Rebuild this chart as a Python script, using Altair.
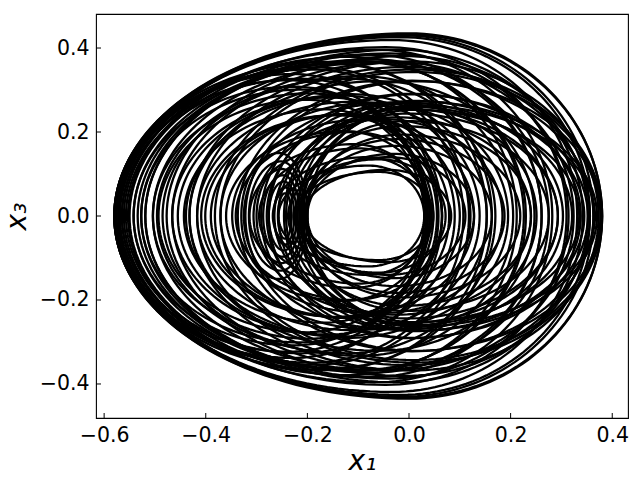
import numpy as np
import pandas as pd
import altair as alt

# Loop parameters: left x-intercept, right x-intercept,
# half-height and x position of the top of each loop of the trajectory.
loop_left = [-0.580, -0.553, -0.485, -0.390, -0.295, -0.227, -0.200, -0.223, -0.291, -0.382,
             -0.477, -0.550, -0.580, -0.557, -0.493, -0.401, -0.306, -0.234, -0.200, -0.219,
             -0.280, -0.371, -0.466, -0.542, -0.580, -0.565, -0.504, -0.417, -0.322, -0.242,
             -0.204, -0.215, -0.268, -0.360, -0.455, -0.534, -0.576, -0.572, -0.519, -0.432,
             -0.576, -0.527, -0.439, -0.341, -0.257, -0.208, -0.211, -0.257, -0.337, -0.432,
             -0.519, -0.569, -0.572, -0.527, -0.443, -0.348, -0.265, -0.211, -0.246, -0.325,
             -0.417, -0.504, -0.565, -0.576, -0.542, -0.466, -0.371, -0.276, -0.215, -0.204,
             -0.238, -0.314, -0.409, -0.496, -0.561, -0.580,
             -0.258, -0.266, -0.276, -0.287, -0.300, -0.315, -0.330]
loop_right = [0.380, 0.310, 0.205, 0.100, 0.037, 0.048, 0.128, 0.240, 0.338, 0.380,
              0.352, 0.261, 0.153, 0.065, 0.030, 0.079, 0.184, 0.293, 0.366, 0.370,
              0.303, 0.195, 0.090, 0.034, 0.058, 0.163, 0.275, 0.356, 0.377, 0.321,
              0.219, 0.111, 0.041, 0.044, 0.121, 0.230, 0.331, 0.380, 0.342, 0.247,
              0.356, 0.261, 0.153, 0.065, 0.030, 0.083, 0.188, 0.293, 0.363, 0.373,
              0.314, 0.212, 0.107, 0.041, 0.048, 0.128, 0.240, 0.335, 0.345, 0.251,
              0.139, 0.055, 0.037, 0.118, 0.226, 0.324, 0.377, 0.352, 0.275, 0.163,
              0.072, 0.034, 0.065, 0.170, 0.282, 0.363,
              -0.231, -0.226, -0.221, -0.215, -0.208, -0.204, -0.200]
loop_height = [0.435, 0.402, 0.333, 0.243, 0.161, 0.105, 0.148, 0.214, 0.291, 0.349,
               0.381, 0.384, 0.367, 0.327, 0.277, 0.241, 0.231, 0.244, 0.263, 0.273,
               0.270, 0.270, 0.282, 0.308, 0.338, 0.362, 0.367, 0.355, 0.321, 0.260,
               0.194, 0.140, 0.140, 0.202, 0.287, 0.367, 0.419, 0.432, 0.396, 0.321,
               0.426, 0.373, 0.290, 0.200, 0.120, 0.110, 0.183, 0.255, 0.322, 0.368,
               0.387, 0.379, 0.349, 0.301, 0.254, 0.230, 0.235, 0.253, 0.274, 0.270,
               0.272, 0.292, 0.323, 0.354, 0.369, 0.366, 0.343, 0.290, 0.226, 0.167,
               0.135, 0.171, 0.240, 0.327, 0.396, 0.430,
               0.054, 0.068, 0.082, 0.097, 0.112, 0.130, 0.150]
loop_top_x = [0.000, -0.046, -0.097, -0.118, -0.098, -0.060, -0.030, -0.013, 0.002, 0.010,
              -0.010, -0.079, -0.163, -0.214, -0.204, -0.133, -0.053, -0.004, 0.017, 0.016,
              -0.008, -0.069, -0.157, -0.228, -0.230, -0.150, -0.060, -0.003, 0.013, 0.003,
              -0.014, -0.041, -0.083, -0.128, -0.134, -0.096, -0.034, 0.000, -0.022, -0.060,
              -0.017, -0.074, -0.112, -0.110, -0.080, -0.043, -0.022, -0.007, 0.006, 0.004,
              -0.039, -0.117, -0.192, -0.216, -0.168, -0.089, -0.024, 0.009, 0.008, -0.035,
              -0.110, -0.195, -0.237, -0.186, -0.100, -0.026, 0.009, 0.007, -0.004, -0.025,
              -0.059, -0.109, -0.143, -0.121, -0.067, -0.013,
              -0.244, -0.244, -0.246, -0.248, -0.250, -0.252, -0.255]

x_ticks = [-0.6, -0.4, -0.2, 0.0, 0.2, 0.4]
y_ticks = [-0.4, -0.2, 0.0, 0.2, 0.4]
x_domain = [-0.616, 0.431]
y_domain = [-0.481, 0.481]

rows = []
theta = np.linspace(0, 2 * np.pi, 161)
for k, (L, R, T, X) in enumerate(zip(loop_left, loop_right, loop_height, loop_top_x)):
    c = np.cos(theta)
    xs = np.where(c >= 0, X + (R - X) * c, X + (X - L) * c)
    ys = T * np.sin(theta)
    for i, (xv, yv) in enumerate(zip(xs, ys)):
        rows.append({"loop": k, "i": i, "x1": float(xv), "x3": float(yv)})
df = pd.DataFrame(rows)

W, H = 532, 404
xscale = alt.Scale(domain=x_domain, nice=False, zero=False)
yscale = alt.Scale(domain=y_domain, nice=False, zero=False)

lab = dict(labelFont="DejaVu Sans", labelFontSize=20.5, labelColor="black",
           titleFont="DejaVu Sans", titleFontSize=28, titleFontStyle="italic",
           titleFontWeight="normal", titleColor="black", grid=False, domain=False,
           tickSize=0, format=".1f")

lines = alt.Chart(df).mark_line(color="black", strokeWidth=2.3).encode(
    x=alt.X("x1:Q", scale=xscale,
            axis=alt.Axis(values=x_ticks, title="x₁", labelPadding=7, titlePadding=2, **lab)),
    y=alt.Y("x3:Q", scale=yscale,
            axis=alt.Axis(values=y_ticks, title="x₃", labelPadding=7, titlePadding=8, **lab)),
    detail="loop:N",
    order="i:Q",
)

xt = alt.Chart(pd.DataFrame({"t": x_ticks})).mark_rule(color="black", strokeWidth=1).encode(
    x=alt.X("t:Q", scale=xscale), y=alt.value(H), y2=alt.value(H - 5))
yt = alt.Chart(pd.DataFrame({"t": y_ticks})).mark_rule(color="black", strokeWidth=1).encode(
    y=alt.Y("t:Q", scale=yscale), x=alt.value(0), x2=alt.value(5))

chart = alt.layer(lines, xt, yt).properties(
    width=W, height=H,
    padding={"left": 88, "top": 6, "right": 4, "bottom": 54},
    autosize=alt.AutoSizeParams(type="none"),
).configure(background="white").configure_view(stroke="black", strokeWidth=1.1)

chart.save("out.html", embed_options={"renderer": "svg", "actions": False})
